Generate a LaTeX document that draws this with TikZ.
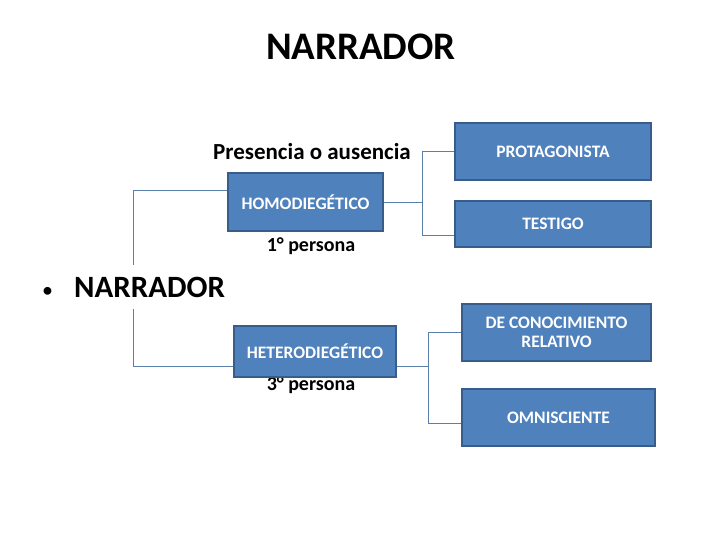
\documentclass[tikz,border=0pt]{standalone}
\usepackage{fontspec}
\setmainfont{Carlito}
\usetikzlibrary{positioning, calc}
\definecolor{boxFill}{HTML}{4F81BD}
\definecolor{boxBorder}{HTML}{385D8A}
\definecolor{lineColor}{HTML}{5A7FA8}
\tikzset{
  typebox/.style={draw=boxBorder, fill=boxFill, line width=1.6pt,
    font=\fontsize{17.5}{19.5}\selectfont\bfseries, text=white, align=center,
    inner sep=0pt},
  plain/.style={inner sep=0pt, text=black},
  link/.style={draw=lineColor, line width=0.8pt},
}
\begin{document}
\begin{tikzpicture}[x=1pt, y=-1pt]
  \useasboundingbox (0,0) rectangle (720,540);

  % === Titles ===
  \node[plain, font=\fontsize{39}{42}\selectfont\bfseries] (title) at (361,47) {NARRADOR};

  % === Labels ===
  \node[plain, font=\fontsize{23}{25}\selectfont\bfseries] (presence) at (312,152) {Presencia o ausencia};
  \node[plain, font=\fontsize{20}{22}\selectfont\bfseries] (first) at (311,246) {1° persona};
  \node[plain, font=\fontsize{20}{22}\selectfont\bfseries] (third) at (311,385) {3° persona};

  % === Middle column ===
  \node[typebox, minimum width=155pt, minimum height=58pt] (homo) at (305.5,202) {HOMODIEGÉTICO};
  \node[typebox, minimum width=162pt, minimum height=51pt] (hetero) at (315,351.5) {HETERODIEGÉTICO};

  % === Right column ===
  \node[typebox, minimum width=196pt, minimum height=57pt] (prota) at (553,151.5) {PROTAGONISTA};
  \node[typebox, minimum width=196pt, minimum height=46pt] (testigo) at (553,224) {TESTIGO};
  \node[typebox, minimum width=189pt, minimum height=57pt] (relativo) at (556.5,332.5) {DE CONOCIMIENTO\\RELATIVO};
  \node[typebox, minimum width=193pt, minimum height=57pt] (omni) at (558.5,417.5) {OMNISCIENTE};

  % === Brackets ===
  \coordinate (leftBar) at (133,0);
  \coordinate (homoBar) at (422,0);
  \coordinate (heteroBar) at (428,0);

  \draw[link] ([yshift=12pt]homo.west) -- ([yshift=12pt]homo.west -| leftBar) -- ([yshift=-14.5pt]hetero.west -| leftBar) -- ([yshift=-14.5pt]hetero.west);

  \draw[link] (homo.east) -- (homo.east -| homoBar);
  \draw[link] (prota.west) -- (prota.west -| homoBar) -- ([yshift=-11pt]testigo.west -| homoBar) -- ([yshift=-11pt]testigo.west);

  \draw[link] ([yshift=-14.5pt]hetero.east) -- ([yshift=-14.5pt]hetero.east -| heteroBar);
  \draw[link] (relativo.west) -- (relativo.west -| heteroBar) -- ([yshift=-5.5pt]omni.west -| heteroBar) -- ([yshift=-5.5pt]omni.west);

  % Bullet line, on white so it hides the bar behind it
  \node[plain, anchor=west, fill=white, minimum height=44pt, font=\fontsize{31}{34}\selectfont\bfseries] (main) at (42,287) {{\fontsize{22}{22}\selectfont\mdseries •}\hspace{21pt}NARRADOR};

\end{tikzpicture}
\end{document}
